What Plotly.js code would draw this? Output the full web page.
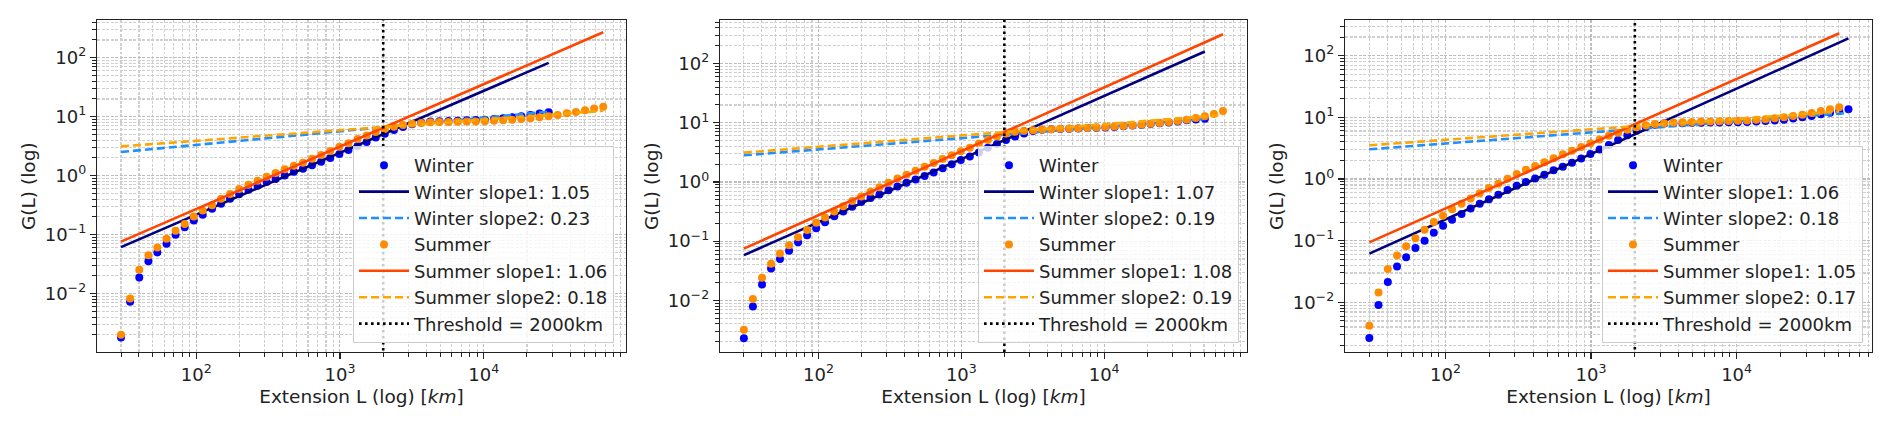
<!DOCTYPE html>
<html>
<head>
<meta charset="utf-8">
<script src="https://cdn.plot.ly/plotly-3.0.1.min.js"></script>
<style>
  body { margin: 0; background: #ffffff; }
</style>
</head>
<body>
<div id="myDiv" style="width:1892px;height:429px"></div>
<script>
// extension bins (km), shared by the three panels
var ext = [30, 34.7, 40.2, 46.5, 53.7, 62.2, 71.9, 83.2, 96.3, 111,
           129, 149, 172, 199, 231, 267, 309, 357, 413, 478,
           553, 640, 740, 856, 991, 1146, 1326, 1534, 1775, 2053,
           2375, 2748, 3179, 3678, 4255, 4923, 5695, 6589, 7623, 8819,
           10203, 11804, 13656, 15799, 18278, 21146, 24464, 28303, 32744, 37881,
           43826, 50702, 58658, 67862];

// G(L)
var winterG_a = [0.0018, 0.0073, 0.0187, 0.0355, 0.0499, 0.070, 0.100, 0.134, 0.174, 0.217,
                 0.275, 0.334, 0.407, 0.482, 0.578, 0.676, 0.780, 0.877, 1.01, 1.17,
                 1.315, 1.51, 1.73, 2.0, 2.33, 2.72, 3.18, 3.72, 4.42, 5.16,
                 5.94, 6.68, 7.43, 7.94, 8.26, 8.36, 8.45, 8.57, 8.69, 8.79,
                 8.91, 9.14, 9.40, 9.77, 10.2, 10.7, 11.3, 11.9];
var summerG_a = [0.0020, 0.0083, 0.0255, 0.0447, 0.0603, 0.0851, 0.117, 0.151, 0.204, 0.257,
                 0.316, 0.407, 0.490, 0.596, 0.700, 0.822, 0.955, 1.11, 1.29, 1.48,
                 1.66, 1.93, 2.24, 2.63, 3.09, 3.55, 4.17, 4.79, 5.50, 6.17,
                 6.76, 7.24, 7.59, 7.85, 8.04, 8.13, 8.17, 8.22, 8.28, 8.32,
                 8.41, 8.51, 8.71, 8.91, 9.12, 9.44, 9.77, 10.2, 10.7, 11.4,
                 12.0, 12.9, 13.8, 14.8];
var winterG_b = [0.0023, 0.0079, 0.0186, 0.0347, 0.0501, 0.0692, 0.0955, 0.126, 0.166, 0.209,
                 0.263, 0.316, 0.380, 0.457, 0.537, 0.617, 0.724, 0.841, 0.966, 1.10,
                 1.26, 1.45, 1.70, 2.0, 2.34, 2.69, 3.16, 3.80, 4.37, 5.13,
                 5.89, 6.61, 7.24, 7.59, 7.76, 7.85, 7.94, 8.04, 8.13, 8.22,
                 8.32, 8.51, 8.71, 9.02, 9.23, 9.55, 9.77, 10.1, 10.5, 11.0,
                 11.4, 11.7];
var summerG_b = [0.0032, 0.0105, 0.024, 0.0417, 0.0617, 0.0851, 0.117, 0.155, 0.204, 0.251,
                 0.316, 0.389, 0.479, 0.569, 0.684, 0.813, 0.966, 1.15, 1.33, 1.55,
                 1.80, 2.09, 2.45, 2.82, 3.31, 3.80, 4.47, 5.13, 5.89, 6.61,
                 7.08, 7.33, 7.50, 7.70, 7.80, 7.90, 8.00, 8.10, 8.20, 8.30,
                 8.45, 8.65, 8.85, 9.10, 9.35, 9.65, 9.95, 10.3, 10.7, 11.2,
                 12.0, 12.9, 14.1, 15.8];
var winterG_c = [0.00265, 0.0091, 0.0214, 0.038, 0.0537, 0.0759, 0.100, 0.135, 0.174, 0.219,
                 0.271, 0.331, 0.398, 0.468, 0.556, 0.661, 0.776, 0.891, 1.02, 1.17,
                 1.38, 1.58, 1.84, 2.14, 2.54, 3.02, 3.55, 4.27, 5.13, 6.03,
                 6.92, 7.59, 7.94, 8.04, 8.04, 8.13, 8.13, 8.22, 8.22, 8.32,
                 8.32, 8.41, 8.51, 8.71, 8.91, 9.12, 9.55, 10.0, 10.5, 11.2,
                 11.9, 12.6, 13.5];
var summerG_c = [0.0042, 0.0145, 0.0347, 0.0575, 0.0813, 0.110, 0.151, 0.200, 0.254, 0.324,
                 0.398, 0.484, 0.586, 0.715, 0.841, 1.01, 1.20, 1.41, 1.62, 1.86,
                 2.16, 2.51, 2.88, 3.31, 3.80, 4.37, 5.01, 5.62, 6.31, 6.92,
                 7.41, 7.76, 8.04, 8.22, 8.32, 8.41, 8.51, 8.51, 8.61, 8.71,
                 8.81, 8.91, 9.12, 9.33, 9.66, 10.0, 10.5, 11.0, 11.7, 12.6,
                 13.5, 14.5];

// fitted lines: G at first and last extension of each series
var winterFit1 = [[0.0614, 82], [0.058, 160], [0.0616, 190]];
var winterFit2 = [[2.52, 12.2], [2.82, 11.6], [3.03, 11.8]];
var summerFit1 = [[0.076, 270], [0.075, 313], [0.094, 230]];
var summerFit2 = [[3.14, 12.6], [3.13, 13.6], [3.52, 12.4]];

var winterSlope1 = ['1.05', '1.07', '1.06'];
var winterSlope2 = ['0.23', '0.19', '0.18'];
var summerSlope1 = ['1.06', '1.08', '1.05'];
var summerSlope2 = ['0.18', '0.19', '0.17'];

var thresholdKm = 2000;

var xTickVals = [100, 1000, 10000];
var xTickText = ['10<sup>2</sup>', '10<sup>3</sup>', '10<sup>4</sup>'];
var yTickVals = [0.001, 0.01, 0.1, 1, 10, 100];
var yTickText = ['10<sup>\u22123</sup>', '10<sup>\u22122</sup>', '10<sup>\u22121</sup>',
                 '10<sup>0</sup>', '10<sup>1</sup>', '10<sup>2</sup>'];

// minor ticks 2..9 in every decade
var minorVals = [];
for (var d = -4; d <= 5; d++) {
  for (var m = 2; m <= 9; m++) minorVals.push(m * Math.pow(10, d));
}

var W = 1892, H = 429;
var plotTop = 20, plotBottom = 352;
var panels = [
  { left: 97,   right: 626,  xr: [1.31, 4.99], yr: [-2.99, 2.64], legRight: 614 },
  { left: 720,  right: 1247, xr: [1.31, 5.00], yr: [-2.872, 2.736], legRight: 1239 },
  { left: 1345, right: 1872, xr: [1.31, 4.93], yr: [-2.804, 2.577], legRight: 1863 }
];
var winterAll = [winterG_a, winterG_b, winterG_c];
var summerAll = [summerG_a, summerG_b, summerG_c];

var axisColor = '#222222';
var data = [];
var annotations = [];
var layout = {
  width: W, height: H,
  margin: { l: 0, r: 0, t: 0, b: 0 },
  paper_bgcolor: '#ffffff',
  plot_bgcolor: '#ffffff',
  font: { family: 'DejaVu Sans', size: 18, color: axisColor },
  showlegend: true
};

function axisBase(isX, p) {
  return {
    type: 'log',
    showline: true, mirror: true, linecolor: axisColor, linewidth: 1.2,
    zeroline: false,
    ticks: 'outside', ticklen: 6, tickwidth: 1.2, tickcolor: axisColor,
    tickmode: 'array',
    tickvals: isX ? xTickVals : yTickVals,
    ticktext: isX ? xTickText : yTickText,
    tickfont: { family: 'DejaVu Sans', size: 18, color: axisColor },
    showgrid: true, gridcolor: '#bdbdbd', gridwidth: 1.1, griddash: '3px,1.5px',
    minor: {
      tickmode: 'array', tickvals: minorVals,
      ticks: 'outside', ticklen: 3.5, tickwidth: 1, tickcolor: axisColor,
      showgrid: true, gridcolor: '#cfcfcf', gridwidth: 1.1, griddash: '3px,1.5px'
    },
    range: isX ? p.xr : p.yr,
    fixedrange: true
  };
}

panels.forEach(function(p, i) {
  var sfx = i === 0 ? '' : String(i + 1);
  var xa = 'x' + sfx, ya = 'y' + sfx;
  var leg = 'legend' + sfx;
  var wG = winterAll[i], sG = summerAll[i];
  var wX = ext.slice(0, wG.length), sX = ext.slice(0, sG.length);
  var wEnds = [wX[0], wX[wX.length - 1]], sEnds = [sX[0], sX[sX.length - 1]];

  data.push({ x: wX, y: wG, mode: 'markers', name: 'Winter',
              marker: { color: '#0000ff', size: 8 }, xaxis: xa, yaxis: ya, legend: leg });
  data.push({ x: wEnds, y: winterFit1[i], mode: 'lines', name: 'Winter slope1: ' + winterSlope1[i],
              line: { color: '#000080', width: 2.6 }, xaxis: xa, yaxis: ya, legend: leg });
  data.push({ x: wEnds, y: winterFit2[i], mode: 'lines', name: 'Winter slope2: ' + winterSlope2[i],
              line: { color: '#1e90ff', width: 2.6, dash: '8px,4px' }, xaxis: xa, yaxis: ya, legend: leg });
  data.push({ x: sX, y: sG, mode: 'markers', name: 'Summer',
              marker: { color: '#ff8c00', size: 8 }, xaxis: xa, yaxis: ya, legend: leg });
  data.push({ x: sEnds, y: summerFit1[i], mode: 'lines', name: 'Summer slope1: ' + summerSlope1[i],
              line: { color: '#ff4500', width: 2.6 }, xaxis: xa, yaxis: ya, legend: leg });
  data.push({ x: sEnds, y: summerFit2[i], mode: 'lines', name: 'Summer slope2: ' + summerSlope2[i],
              line: { color: '#ffa500', width: 2.6, dash: '8px,4px' }, xaxis: xa, yaxis: ya, legend: leg });
  data.push({ x: [thresholdKm, thresholdKm], y: [1e-5, 1e5], mode: 'lines', name: 'Threshold = 2000km',
              line: { color: '#000000', width: 2.6, dash: '2.6px,3.4px' }, xaxis: xa, yaxis: ya, legend: leg });

  var xaxis = axisBase(true, p);
  xaxis.domain = [p.left / W, p.right / W];
  xaxis.anchor = ya;
  xaxis.title = { text: 'Extension L (log) [<i>km</i>]', font: { size: 18.5, color: axisColor }, standoff: 6 };
  var yaxis = axisBase(false, p);
  yaxis.domain = [1 - plotBottom / H, 1 - plotTop / H];
  yaxis.anchor = xa;
  layout['xaxis' + sfx] = xaxis;
  layout['yaxis' + sfx] = yaxis;

  // y title placed by hand: plotly's standoff puts it too far out
  annotations.push({
    text: 'G(L) (log)', textangle: -90, showarrow: false,
    xref: 'paper', yref: 'paper',
    x: (p.left - 69) / W, y: 1 - ((plotTop + plotBottom) / 2) / H,
    xanchor: 'center', yanchor: 'middle',
    font: { family: 'DejaVu Sans', size: 18.5, color: axisColor }
  });

  layout[leg] = {
    x: p.legRight / W, xanchor: 'right',
    y: 1 - 343 / H, yanchor: 'bottom',
    bgcolor: 'rgba(255,255,255,0.8)', bordercolor: '#cccccc', borderwidth: 1,
    font: { family: 'DejaVu Sans', size: 18, color: axisColor },
    itemwidth: 50, tracegroupgap: 0
  };
});
layout.annotations = annotations;

var config = { displayModeBar: false, responsive: false, staticPlot: true };
Plotly.newPlot('myDiv', data, layout, config);
</script>
</body>
</html>
